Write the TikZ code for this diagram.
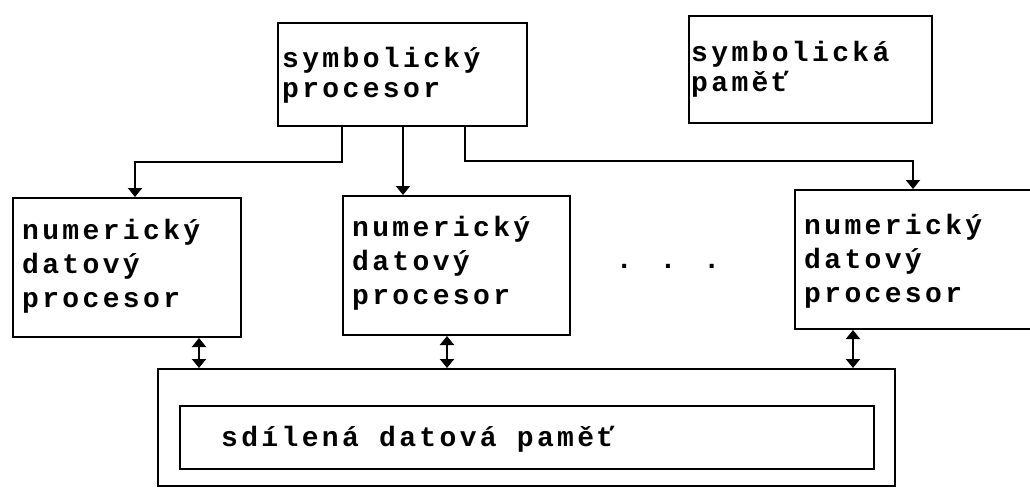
\documentclass[tikz,border=0pt]{standalone}
\usepackage{fontspec}
\usetikzlibrary{arrows.meta}
\newfontfamily\dotfont[LetterSpace=12]{Liberation Mono}

\tikzset{
  box/.style={draw,line width=2pt,rectangle,inner sep=0,anchor=north west},
  txt/.style={font=\dotfont\bfseries\fontsize{28}{30}\selectfont,align=left,anchor=base west,inner sep=0},
  txtl/.style={txt,font=\dotfont\bfseries\fontsize{28}{34}\selectfont},
  arr/.style={line width=2pt,-{Triangle[length=9pt,width=14pt]}},
  dbl/.style={line width=2pt,{Triangle[length=9pt,width=14pt]}-{Triangle[length=9pt,width=14pt]}}
}

\begin{document}
\begin{tikzpicture}[x=1pt,y=-1pt]
\useasboundingbox (0,0) rectangle (1030,487);
\clip (0,0) rectangle (1030,487);
% symbolic part
\node[box,minimum width=249pt,minimum height=103pt] (sproc) at (277,22) {};
\node[txt] (sproctxt) at (282,97) {symbolický\\procesor};
\node[box,minimum width=243pt,minimum height=107pt] (smem) at (688,15) {};
\node[txt] (smemtxt) at (691,92) {symbolická\\paměť};
% numeric processors
\node[box,minimum width=228pt,minimum height=139pt] (ndp1) at (12,197) {};
\node[txtl] (ndp1txt) at (22,307) {numerický\\datový\\procesor};
\node[box,minimum width=227pt,minimum height=139pt] (ndp2) at (342,195) {};
\node[txtl] (ndp2txt) at (352,304) {numerický\\datový\\procesor};
\node[box,minimum width=270pt,minimum height=139pt] (ndp3) at (794,189) {};
\node[txtl] (ndp3txt) at (804,302) {numerický\\datový\\procesor};
\node[txt,anchor=base] (dots) at (668,268) {. . .};
% shared memory
\node[box,minimum width=737pt,minimum height=117pt] (shared) at (157,368) {};
\node[box,minimum width=694pt,minimum height=63pt] (sdm) at (179,405) {};
\node[txt] (sdmtxt) at (221,446) {sdílená datová paměť};
% connections
\draw[arr] ([xshift=65]sproc.south west) -- ++(0,35) -| ([xshift=123]ndp1.north west);
\draw[arr] ([xshift=126]sproc.south west) -- ([xshift=61]ndp2.north west);
\draw[arr] ([xshift=188]sproc.south west) -- ++(0,34) -| ([xshift=119]ndp3.north west);
\draw[dbl] ([xshift=187]ndp1.south west) -- ([xshift=187]ndp1.south west |- shared.north);
\draw[dbl] ([xshift=105]ndp2.south west) -- ([xshift=105]ndp2.south west |- shared.north);
\draw[dbl] ([xshift=59]ndp3.south west) -- ([xshift=59]ndp3.south west |- shared.north);
\end{tikzpicture}
\end{document}
